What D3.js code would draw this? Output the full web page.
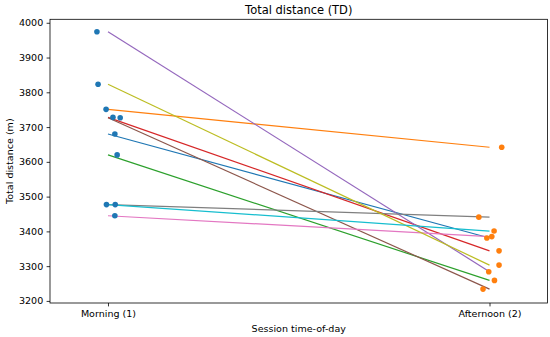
<!DOCTYPE html>
<html>
<head>
<meta charset="utf-8">
<script src="https://cdn.jsdelivr.net/npm/d3@7"></script>
<style>
  body { margin: 0; background: #fff; }
  svg { font-family: 'DejaVu Sans', sans-serif; }
</style>
</head>
<body>
<div id="chart"></div>
<script>
var sessions = ['Morning (1)', 'Afternoon (2)']
var yTicks = [3200, 3300, 3400, 3500, 3600, 3700, 3800, 3900, 4000]

// one entry per player, tab10 order
var morning   = [3680, 3751, 3620, 3728, 3974, 3727, 3445, 3477, 3823, 3477]
var afternoon = [3381, 3642, 3259, 3344, 3284, 3234, 3385, 3441, 3303, 3401]

// stripplot jitter, in category steps
var jitterMorning   = [0.018, -0.005, 0.024, 0.013, -0.029, 0.032, 0.018, -0.004, -0.026, 0.019]
var jitterAfternoon = [-0.007, 0.032, 0.013, 0.025, -0.002, -0.017, 0.006, -0.028, 0.025, 0.012]

var lineColors = d3.schemeCategory10
var dotColors = ['#1f77b4', '#ff7f0e']

var width = 550
var height = 337
var margin = {left: 50, right: 2.5, top: 19.3, bottom: 34}

var svg = d3.select('#chart').append('svg')
  .attr('width', width)
  .attr('height', height)

var x = d3.scalePoint()
  .domain(sessions)
  .range([margin.left, width - margin.right])
  .padding(0.152)

var y = d3.scaleLinear()
  .domain([3194, 4010])
  .range([height - margin.bottom, margin.top])

var g = svg.append('g')

g.append('g')
  .selectAll('line')
  .data(morning)
  .join('line')
  .attr('x1', x(sessions[0]))
  .attr('x2', x(sessions[1]))
  .attr('y1', d => y(d))
  .attr('y2', (d, i) => y(afternoon[i]))
  .attr('stroke', (d, i) => lineColors[i])
  .attr('stroke-width', 1.2)

var series = [
  {vals: morning, jit: jitterMorning, s: sessions[0], color: dotColors[0]},
  {vals: afternoon, jit: jitterAfternoon, s: sessions[1], color: dotColors[1]},
]

series.forEach(ser => {
  g.append('g')
    .selectAll('circle')
    .data(ser.vals)
    .join('circle')
    .attr('cx', (d, i) => x(ser.s) + ser.jit[i] * x.step())
    .attr('cy', d => y(d))
    .attr('r', 2.8)
    .attr('fill', ser.color)
})

var xAxis = svg.append('g')
  .attr('transform', `translate(0,${height - margin.bottom})`)
  .call(d3.axisBottom(x).tickSize(3.4).tickPadding(3.4).tickSizeOuter(0))

var yAxis = svg.append('g')
  .attr('transform', `translate(${margin.left},0)`)
  .call(d3.axisLeft(y).tickValues(yTicks).tickFormat(d3.format('d'))
    .tickSize(3.4).tickPadding(3.4).tickSizeOuter(0))

;[xAxis, yAxis].forEach(a => {
  a.select('.domain').remove()
  a.selectAll('.tick line').attr('stroke', '#000').attr('stroke-width', 0.8)
  a.selectAll('.tick text')
    .attr('fill', '#000')
    .style('font-size', '9.55px')
    .style('font-family', 'DejaVu Sans')
})

svg.append('rect')
  .attr('x', margin.left)
  .attr('y', margin.top)
  .attr('width', width - margin.left - margin.right)
  .attr('height', height - margin.top - margin.bottom)
  .attr('fill', 'none')
  .attr('stroke', '#000')
  .attr('stroke-width', 0.8)

svg.append('text')
  .text('Total distance (TD)')
  .attr('x', (margin.left + width - margin.right) / 2)
  .attr('y', 14)
  .attr('text-anchor', 'middle')
  .style('font-size', '11.46px')

svg.append('text')
  .text('Session time-of-day')
  .attr('x', (margin.left + width - margin.right) / 2)
  .attr('y', 332)
  .attr('text-anchor', 'middle')
  .style('font-size', '9.55px')

svg.append('text')
  .text('Total distance (m)')
  .attr('transform', `translate(13,${(margin.top + height - margin.bottom) / 2}) rotate(-90)`)
  .attr('text-anchor', 'middle')
  .style('font-size', '9.55px')
</script>
</body>
</html>
